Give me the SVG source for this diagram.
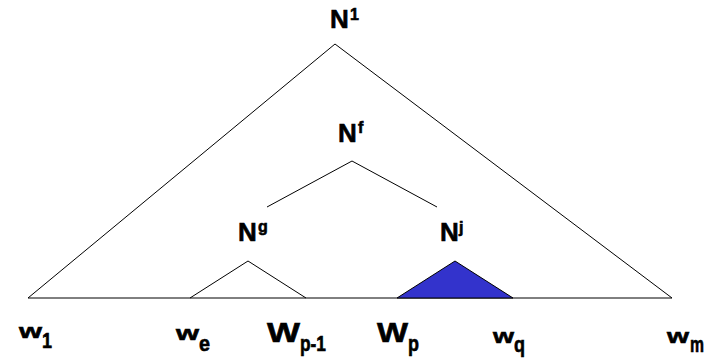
<svg xmlns="http://www.w3.org/2000/svg" width="713" height="360" viewBox="0 0 713 360">
<style>
.ln{fill:none;stroke:#000;stroke-width:1}
.t{font-family:"Liberation Sans",Arial,sans-serif;font-weight:bold;fill:#000;stroke:#000;stroke-width:0.6}
.N{font-size:26px}
.sup{font-size:16px}
.w{font-size:21px}
.W{font-size:28px}
.sub{font-size:22px}
</style>
<rect width="713" height="360" fill="#fff"/>
<g id="connectors">
<polyline class="ln" points="28,298 335,44 672,298"/>
<line class="ln" x1="28" y1="298" x2="672" y2="298"/>
<polyline class="ln" points="267,207 352,161 437,207"/>
<polyline class="ln" points="190,298 248,261 306,298"/>
</g>
<g id="n1"><text class="t N" x="330" y="28">N</text><text class="t sup" x="350" y="20">1</text></g>
<g id="nf"><text class="t N" x="338" y="142">N</text><text class="t sup" x="358" y="133">f</text></g>
<g id="ng"><text class="t N" x="238" y="241">N</text><text class="t sup" x="258" y="232">g</text></g>
<g id="nj"><polygon points="397,298 455,261 513,298" fill="#3333CC" stroke="#000" stroke-width="1"/><text class="t N" x="440" y="241">N</text><text class="t sup" x="459" y="233">j</text></g>
<g id="w1"><text class="t w" x="19" y="338" textLength="23" lengthAdjust="spacingAndGlyphs">w</text><text class="t sub" x="42" y="348" textLength="10" lengthAdjust="spacingAndGlyphs">1</text></g>
<g id="we"><text class="t w" x="176" y="340" textLength="23" lengthAdjust="spacingAndGlyphs">w</text><text class="t sub" x="199" y="351" textLength="11" lengthAdjust="spacingAndGlyphs">e</text></g>
<g id="wp1"><text class="t W" x="267" y="342" textLength="33" lengthAdjust="spacingAndGlyphs">W</text><text class="t sub" x="300" y="351" textLength="26" lengthAdjust="spacingAndGlyphs">p-1</text></g>
<g id="wp"><text class="t W" x="377" y="342" textLength="31" lengthAdjust="spacingAndGlyphs">W</text><text class="t sub" x="408" y="351" textLength="11" lengthAdjust="spacingAndGlyphs">p</text></g>
<g id="wq"><text class="t w" x="493" y="343" textLength="21" lengthAdjust="spacingAndGlyphs">w</text><text class="t sub" x="514" y="352" textLength="11" lengthAdjust="spacingAndGlyphs">q</text></g>
<g id="wm"><text class="t w" x="667" y="343" textLength="22" lengthAdjust="spacingAndGlyphs">w</text><text class="t sub" x="690" y="352" textLength="14" lengthAdjust="spacingAndGlyphs">m</text></g>
</svg>
